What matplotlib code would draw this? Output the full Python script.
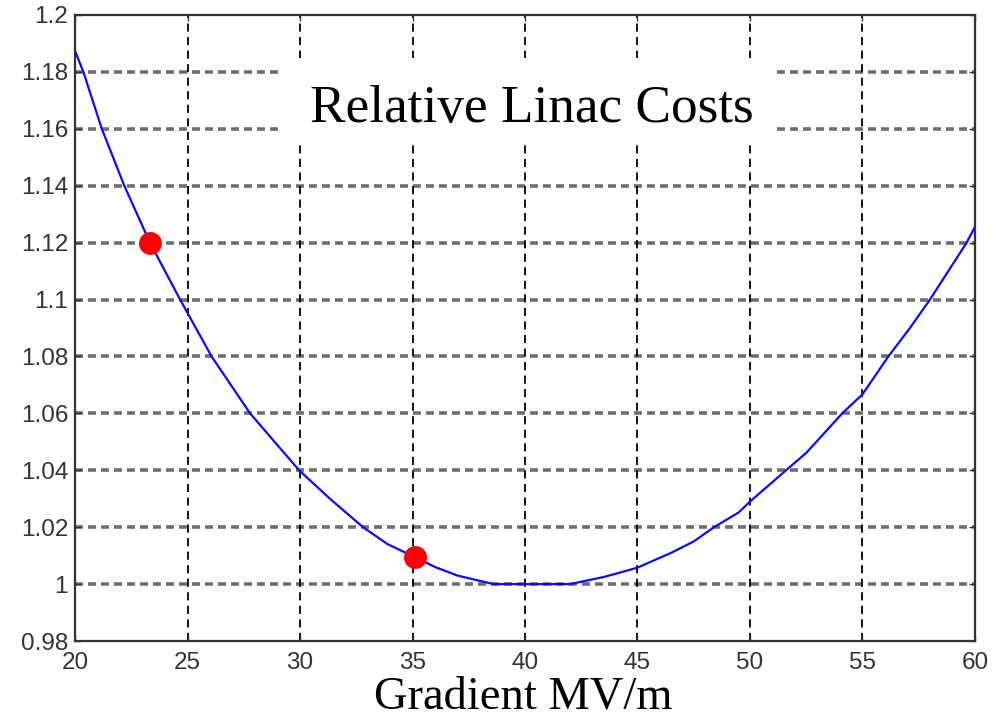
import matplotlib
matplotlib.use("Agg")
import matplotlib.pyplot as plt
from matplotlib.patches import Rectangle

# values
gradient = [20, 20.37, 21.19, 22.19, 23.33, 24.67, 26.07, 27.78, 29.96, 31.33, 32.8,
            33.9, 35.1, 36.0, 37.0, 38.6, 40.0, 42.0, 42.6, 43.5, 44.2, 45.0, 46.5,
            47.5, 48.4, 49.5, 50.0, 51.6, 52.5, 54.1, 55.0, 56.15, 57.1, 58.0,
            59.63, 60]
rel_cost = [1.1874, 1.18, 1.16, 1.14, 1.12, 1.10, 1.08, 1.06, 1.04, 1.030, 1.02,
            1.014, 1.0095, 1.006, 1.003, 1.0, 1.0, 1.0, 1.001, 1.0025, 1.004, 1.0058,
            1.011, 1.015, 1.02, 1.0252, 1.029, 1.04, 1.0461, 1.06, 1.0667, 1.08,
            1.0899, 1.10, 1.12, 1.1256]

dot_x = [23.35, 35.1]
dot_y = [1.12, 1.0095]

xticks = [20, 25, 30, 35, 40, 45, 50, 55, 60]
yticks = [0.98, 1.0, 1.02, 1.04, 1.06, 1.08, 1.1, 1.12, 1.14, 1.16, 1.18, 1.2]
ytick_labels = ["0.98", "1", "1.02", "1.04", "1.06", "1.08", "1.1",
                "1.12", "1.14", "1.16", "1.18", "1.2"]

title = "Relative Linac Costs"
xlabel = "Gradient MV/m"


def main():
    fig = plt.figure(figsize=(10.07, 7.23), dpi=100)
    ax = fig.add_axes([0.0745, 0.1134, 0.8937, 0.8659])

    ax.set_xlim(20, 60)
    ax.set_ylim(0.98, 1.2)

    # MATLAB style grid: grey heavy dashes across, thin black dashes up
    for y in yticks[1:-1]:
        ax.axhline(y, color="#6e6e6e", lw=2.6, linestyle=(0, (2.2, 1.4)), zorder=1)
    for x in xticks[1:-1]:
        ax.axvline(x, color="black", lw=1.3, linestyle=(0, (4.5, 3)), zorder=1)

    ax.plot(gradient, rel_cost, color="#0a0aff", lw=1.6, zorder=3)
    ax.plot(dot_x, dot_y, "o", color="red", markersize=16.5, markeredgewidth=0, zorder=4)

    # white box behind the title text
    ax.add_patch(Rectangle((0.231, 0.7955), 0.547, 0.1355, transform=ax.transAxes,
                           facecolor="white", edgecolor="none", zorder=2))
    ax.text(0.508, 0.829, title, transform=ax.transAxes, ha="center", va="baseline",
            fontsize=38.3, family="Liberation Serif", color="black", zorder=5)

    ax.set_xticks(xticks)
    ax.set_xticklabels([str(v) for v in xticks])
    ax.set_yticks(yticks)
    ax.set_yticklabels(ytick_labels)
    ax.tick_params(direction="in", length=4, width=1, colors="#333333",
                   labelsize=17.5, top=True, right=True)
    ax.tick_params(axis="x", pad=8)
    ax.tick_params(axis="y", pad=5)
    for lab in ax.get_xticklabels() + ax.get_yticklabels():
        lab.set_family("Liberation Sans")
        lab.set_color("#333333")

    for sp in ax.spines.values():
        sp.set_color("#333333")
        sp.set_linewidth(1.6)

    fig.text(523 / 1007, 0.0194, xlabel, ha="center", va="baseline",
             fontsize=33.5, family="Liberation Serif", color="black")

    fig.savefig("out.png", dpi=100)


if __name__ == "__main__":
    main()
